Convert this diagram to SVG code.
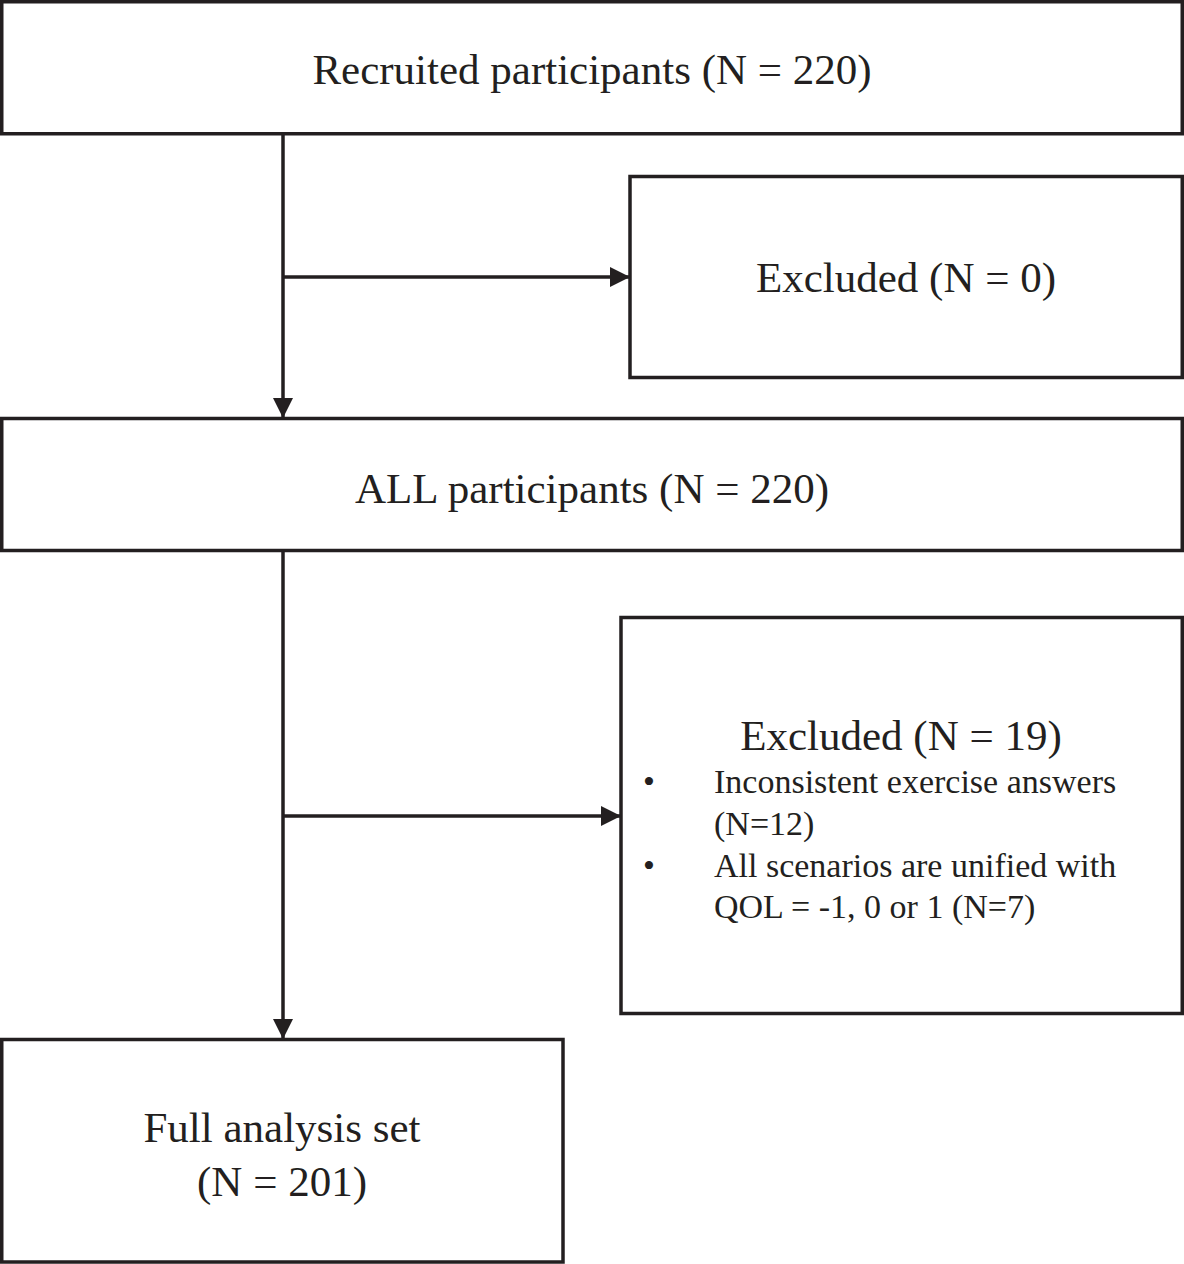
<svg xmlns="http://www.w3.org/2000/svg" width="1184" height="1264" viewBox="0 0 1184 1264">
<style>
.box{fill:#fff;stroke:#231f20;stroke-width:3.5}
.t{font-family:"Liberation Serif","Times New Roman",serif;fill:#231f20;font-size:43px;text-anchor:middle}
.s{font-family:"Liberation Serif","Times New Roman",serif;fill:#231f20;font-size:34px}
.c{stroke:#231f20;stroke-width:3.5;fill:none}
</style>
<defs>
<marker id="ah" markerWidth="20" markerHeight="20" viewBox="0 0 20 20" refX="20" refY="10" orient="auto" markerUnits="userSpaceOnUse">
<path d="M0,0 L20,10 L0,20 Z" fill="#231f20"/>
</marker>
</defs>
<rect width="1184" height="1264" fill="#fff"/>
<g id="connectors">
<line class="c" x1="283" y1="134" x2="283" y2="418" marker-end="url(#ah)"/>
<line class="c" x1="283" y1="277" x2="630" y2="277" marker-end="url(#ah)"/>
<line class="c" x1="283" y1="551" x2="283" y2="1039" marker-end="url(#ah)"/>
<line class="c" x1="283" y1="816" x2="621" y2="816" marker-end="url(#ah)"/>
</g>
<g id="recruited">
<rect class="box" x="1.75" y="1.75" width="1180.5" height="132"/>
<text class="t" x="592" y="84">Recruited participants (N = 220)</text>
</g>
<g id="excluded0">
<rect class="box" x="630" y="176.5" width="552.25" height="201"/>
<text class="t" x="906" y="292">Excluded (N = 0)</text>
</g>
<g id="all">
<rect class="box" x="1.75" y="418.5" width="1180.5" height="132"/>
<text class="t" x="592" y="503">ALL participants (N = 220)</text>
</g>
<g id="excluded19">
<rect class="box" x="621" y="617.5" width="561.25" height="396"/>
<text class="t" x="901" y="750">Excluded (N = 19)</text>
<text class="s" x="643" y="793">•</text>
<text class="s" x="714" y="793">Inconsistent exercise answers</text>
<text class="s" x="714" y="835">(N=12)</text>
<text class="s" x="643" y="877">•</text>
<text class="s" x="714" y="877">All scenarios are unified with</text>
<text class="s" x="714" y="918">QOL = -1, 0 or 1 (N=7)</text>
</g>
<g id="fullset">
<rect class="box" x="1.75" y="1039.5" width="561.25" height="222.5"/>
<text class="t" x="282" y="1142">Full analysis set</text>
<text class="t" x="282" y="1196">(N = 201)</text>
</g>
</svg>
